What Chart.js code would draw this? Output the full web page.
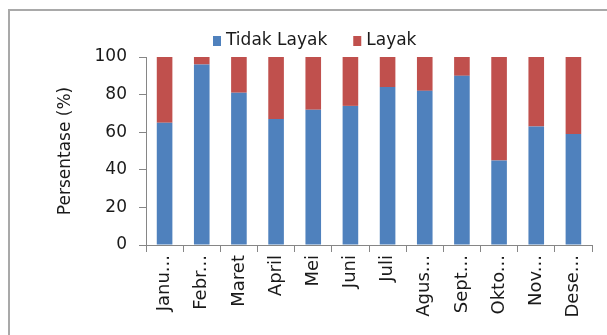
<!DOCTYPE html>
<html>
<head>
<meta charset="utf-8">
<script src="https://cdn.jsdelivr.net/npm/chart.js@4/dist/chart.umd.min.js"></script>
<style>
  html, body { margin: 0; padding: 0; background: #fff; }
  #wrap { position: relative; width: 607px; height: 335px; overflow: hidden; }
  #frame {
    position: absolute; left: 8px; top: 9px; width: 700px; height: 400px;
    border-top: 2px solid #a9a9a9; border-left: 2px solid #a9a9a9;
  }
  #chart { position: absolute; left: 0; top: 0; }
</style>
</head>
<body>
<div id="wrap">
  <div id="frame"></div>
  <canvas id="chart" width="607" height="335"></canvas>
</div>
<script>
// ----------------------------------------------------
// DATA
// ----------------------------------------------------
const months = ["Janu...", "Febr...", "Maret", "April", "Mei", "Juni",
                "Juli", "Agus...", "Sept...", "Okto...", "Nov...", "Dese..."];
const tidakLayak = [65, 96, 81, 67, 72, 74, 84, 82, 90, 45, 63, 59];
const layak      = [35, 4, 19, 33, 28, 26, 16, 18, 10, 55, 37, 41];
const seriesNames = ["Tidak Layak", "Layak"];
const yTicks = [0, 20, 40, 60, 80, 100];

const BLUE = "#4f81bd";
const RED = "#c0504d";
const AXIS = "#868686";
const FONT = "'DejaVu Sans', Verdana, sans-serif";

// ----------------------------------------------------
// LEGEND ABOVE THE PLOT (drawn by hand for exact placement)
// ----------------------------------------------------
const topLegendPlugin = {
    id: "topLegend",
    afterDraw(chart) {
        const { ctx, chartArea } = chart;
        ctx.save();
        ctx.font = "17px " + FONT;
        ctx.textBaseline = "middle";
        ctx.textAlign = "left";
        let x = chartArea.left + 67;
        const y = 41;
        chart.data.datasets.forEach(ds => {
            ctx.fillStyle = ds.backgroundColor;
            ctx.fillRect(x, y - 5, 8, 10);
            x += 13;
            ctx.fillStyle = "#1a1a1a";
            ctx.fillText(ds.label, x, y);
            x += ctx.measureText(ds.label).width + 26;
        });
        ctx.restore();
    }
};

new Chart(document.getElementById("chart"), {
    type: "bar",
    data: {
        labels: months,
        datasets: [
            { label: seriesNames[0], data: tidakLayak, backgroundColor: BLUE },
            { label: seriesNames[1], data: layak, backgroundColor: RED }
        ]
    },
    options: {
        responsive: false,
        animation: false,
        layout: { padding: { top: 57, right: 15, bottom: 0, left: 0 } },
        datasets: { bar: { categoryPercentage: 1, barPercentage: 0.42 } },
        plugins: { legend: { display: false }, tooltip: { enabled: false } },
        scales: {
            x: {
                stacked: true,
                afterFit(scale) { scale.height = 90; },
                border: { color: AXIS, width: 1 },
                grid: { drawOnChartArea: false, tickLength: 7, color: AXIS, offset: true },
                ticks: {
                    minRotation: 90, maxRotation: 90, autoSkip: false,
                    padding: 3, color: "#1a1a1a",
                    font: { family: FONT, size: 18 }
                }
            },
            y: {
                stacked: true,
                min: 0, max: 100,
                afterFit(scale) { scale.width = 146; },
                afterBuildTicks(scale) { scale.ticks = yTicks.map(v => ({ value: v })); },
                border: { color: AXIS, width: 1 },
                grid: { drawOnChartArea: false, tickLength: 7, color: AXIS },
                ticks: {
                    padding: 12, color: "#1a1a1a",
                    font: { family: FONT, size: 17 }
                },
                title: {
                    display: true, text: "Persentase (%)", color: "#1a1a1a",
                    font: { family: FONT, size: 17 },
                    padding: { top: 55, bottom: 0 }
                }
            }
        }
    },
    plugins: [topLegendPlugin]
});
</script>
</body>
</html>
